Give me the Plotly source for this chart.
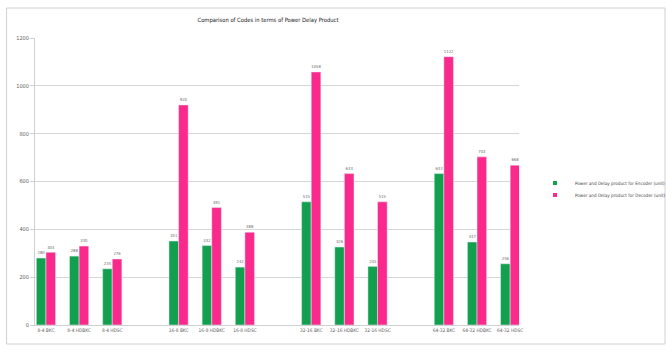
import plotly.graph_objects as go

groups = [
    ["8-4 BKC", "8-4 HDBKC", "8-4 HDSC"],
    ["16-8 BKC", "16-8 HDBKC", "16-8 HDSC"],
    ["32-16 BKC", "32-16 HDBKC", "32-16 HDSC"],
    ["64-32 BKC", "64-32 HDBKC", "64-32 HDSC"],
]
encoder = [280, 288, 235, 351, 332, 242, 515, 326, 245, 633, 347, 256]
decoder = [304, 330, 276, 920, 491, 388, 1058, 633, 515, 1122, 703, 668]
y_ticks = [0, 200, 400, 600, 800, 1000, 1200]

title = "Comparison of Codes in terms of Power Delay Product"
enc_name = "Power and Delay product for Encoder (unit)"
dec_name = "Power and Delay product for Decoder (unit)"
GREEN, PINK = "#12A04E", "#FA2A8C"

categories = [c for g in groups for c in g]
axis_order = []
for i, g in enumerate(groups):
    axis_order += g
    if i < len(groups) - 1:
        axis_order.append(" " * (i + 1))

W, H = 666, 350
L, R, T, B = 35, 120, 38, 25
pw = W - L - R
ph = H - T - B

fig = go.Figure()
for vals, name, col in [(encoder, enc_name, GREEN), (decoder, dec_name, PINK)]:
    fig.add_trace(go.Bar(
        x=categories, y=vals, name=name, marker_color=col, showlegend=False,
        text=[str(v) for v in vals], textposition="outside",
        textfont=dict(size=5.5, color="#6A6A6A"), cliponaxis=False,
    ))
for name, col, lg in [(enc_name, GREEN, "legend"), (dec_name, PINK, "legend2")]:
    fig.add_trace(go.Scatter(
        x=[None], y=[None], mode="markers", name=name, legend=lg,
        marker=dict(symbol="square", size=4, color=col),
    ))

fig.add_shape(type="rect", xref="paper", yref="paper",
              x0=(5 - L) / pw, x1=(700 - L) / pw,
              y0=-(344 - (H - B)) / ph, y1=1 + (T - 8) / ph,
              line=dict(color="#D0D0D0", width=1), layer="below")

leg_common = dict(xref="container", yref="container", xanchor="left", yanchor="middle",
                  font=dict(size=4.6, color="#404040"),
                  itemwidth=30, bgcolor="rgba(0,0,0,0)")
lx = 535 / W
fig.update_layout(
    width=W, height=H,
    margin=dict(l=L, r=R, t=T, b=B, pad=0),
    paper_bgcolor="white", plot_bgcolor="white",
    font=dict(family="DejaVu Sans Condensed", color="#595959", size=6),
    title=dict(text=title, x=268 / W, xanchor="center", y=1 - 20 / H, yanchor="middle",
               font=dict(family="DejaVu Sans Condensed", size=5.8, color="#202020")),
    barmode="group", bargap=0.42, bargroupgap=0.0,
    uniformtext=dict(minsize=4, mode="show"),
    legend=dict(x=lx, y=1 - 183 / H, **leg_common),
    legend2=dict(x=lx, y=1 - 195 / H, **leg_common),
    showlegend=True,
)
fig.update_xaxes(
    type="category", categoryorder="array", categoryarray=axis_order,
    range=[-0.33, len(axis_order) - 1 + 0.27],
    showgrid=False, showline=True, linecolor="#D0D0D0", linewidth=1,
    tickfont=dict(size=4.8, color="#606060"), tickangle=0, ticks="",
)
fig.update_yaxes(
    range=[0, 1200], tickvals=y_ticks, showgrid=True, gridcolor="#D6D6D6", gridwidth=1,
    showline=True, linecolor="#D0D0D0", ticks="outside", ticklen=4, tickcolor="#D0D0D0",
    tickfont=dict(size=5.5, color="#606060"), zeroline=False,
)

fig.write_html("out.html")
